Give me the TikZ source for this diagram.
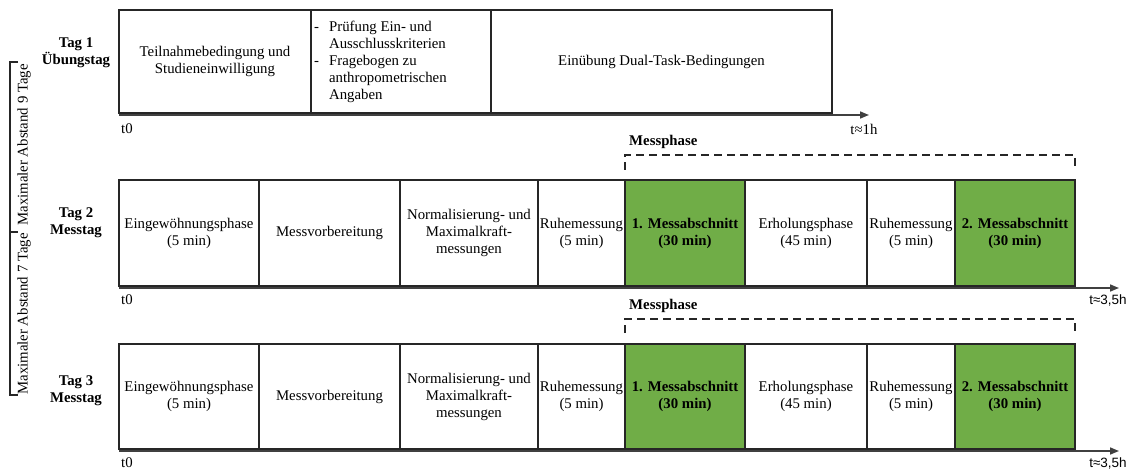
\documentclass[tikz,border=0pt]{standalone}
\usepackage{fontspec}
\setmainfont{Liberation Serif}
\newfontfamily\sansf{Liberation Sans}
\usetikzlibrary{arrows.meta}
\definecolor{mgreen}{HTML}{70AD47}
\begin{document}
\begin{tikzpicture}[x=1pt,y=-1pt,
  every node/.style={font=\fontsize{14.8}{17}\selectfont, inner sep=0pt},
  phase/.style={draw=black!85, line width=1.1pt, align=center},
  green/.style={phase, fill=mgreen, font=\fontsize{14.8}{17}\selectfont\bfseries},
  axis/.style={draw=black!75, line width=1.6pt, -{Triangle[length=9pt,width=7pt]}},
  daylabel/.style={align=center, font=\fontsize{14.8}{17}\selectfont\bfseries},
  msbracket/.style={draw=black!85, line width=1.6pt, dash pattern=on 8pt off 5pt},
  bracketline/.style={draw=black!85, line width=1.3pt},
  timelabel/.style={anchor=center},
]
\useasboundingbox (0,0) rectangle (1132,470);

% ---------- Tag 1 ----------
\node[daylabel] (tag1) at (76,53) {Tag 1\\Übungstag};
\node[phase, minimum width=192pt, minimum height=103pt] (a1) at (215,61.5)
  {Teilnahmebedingung und\\Studieneinwilligung};
\node[phase, minimum width=180pt, minimum height=103pt] (a2) at (401,61.5) {};
\node[anchor=west] (a2t) at (314,62.5)
  {\begin{tabular}{@{}l@{\hspace{10pt}}l@{}}
  - & Prüfung Ein- und\\
    & Ausschlusskriterien\\
  - & Fragebogen zu\\
    & anthropometrischen\\
    & Angaben
  \end{tabular}};
\node[phase, minimum width=341pt, minimum height=103pt] (a3) at (661.5,61.5)
  {Einübung Dual-Task-Bedingungen};
\coordinate (a0) at (119,115);
\coordinate (aend) at (869,115);
\draw[axis] (a0) -- (aend);
\node[timelabel] (t0a) at (127,129) {t0};
\node[timelabel] (t1a) at (864,129) {t≈1h};

% ---------- Tag 2 ----------
\node[daylabel] (tag2) at (76,223) {Tag 2\\Messtag};
\node[font=\fontsize{14.8}{17}\selectfont\bfseries, anchor=west] (mp2) at (629,142) {Messphase};
\foreach \r/\yc/\h/\ya/\yt/\ytop/\ytick in {b/233/106/288/300/155/170, c/396.5/105/451/463/319/333}{
  \node[phase, minimum width=140pt, minimum height=\h pt] (\r1) at (189,\yc) {Eingewöhnungsphase\\(5 min)};
  \node[phase, minimum width=141pt, minimum height=\h pt] (\r2) at (329.5,\yc) {Messvorbereitung};
  \node[phase, minimum width=138pt, minimum height=\h pt] (\r3) at (469,\yc) {Normalisierung- und\\Maximalkraft-\\messungen};
  \node[phase, minimum width=87pt, minimum height=\h pt] (\r4) at (581.5,\yc) {Ruhemessung\\(5 min)};
  \node[green, minimum width=120pt, minimum height=\h pt] (\r5) at (685,\yc) {1. Messabschnitt\\(30 min)};
  \node[phase, minimum width=122pt, minimum height=\h pt] (\r6) at (806,\yc) {Erholungsphase\\(45 min)};
  \node[phase, minimum width=88pt, minimum height=\h pt] (\r7) at (911,\yc) {Ruhemessung\\(5 min)};
  \node[green, minimum width=120pt, minimum height=\h pt] (\r8) at (1015,\yc) {2. Messabschnitt\\(30 min)};
  \coordinate (\r0) at (119,\ya);
  \coordinate (\r end) at (1119,\ya);
  \draw[axis] (\r0) -- (\r end);
  \node[timelabel] (\r t0) at (127,\yt) {t0};
  \node[timelabel, font=\fontsize{13.5}{16}\sansf] (\r t1) at (1108,\yt) {t≈3,5h};
  \coordinate (\r m1) at (625,\ytick);
  \coordinate (\r m2) at (625,\ytop);
  \coordinate (\r m3) at (1075,\ytop);
  \coordinate (\r m4) at (1075,\ytick);
  \draw[msbracket] (\r m1) -- (\r m2) -- (\r m3) -- (\r m4);
}

% ---------- Tag 3 ----------
\node[daylabel] (tag3) at (76,391) {Tag 3\\Messtag};
\node[font=\fontsize{14.8}{17}\selectfont\bfseries, anchor=west] (mp3) at (629,306) {Messphase};

% ---------- left brackets ----------
\coordinate (l1) at (10,62);
\coordinate (l2) at (10,232);
\coordinate (l3) at (10,395);
\coordinate (l1r) at (18,62);
\coordinate (l2r) at (18,232);
\coordinate (l3r) at (18,395);
\draw[bracketline] (l1r) -- (l1) -- (l3) -- (l3r);
\draw[bracketline] (l2) -- (l2r);
\node[rotate=90] (gap9) at (24,145) {Maximaler Abstand 9 Tage};
\node[rotate=90] (gap7) at (24,314) {Maximaler Abstand 7 Tage};
\end{tikzpicture}
\end{document}
